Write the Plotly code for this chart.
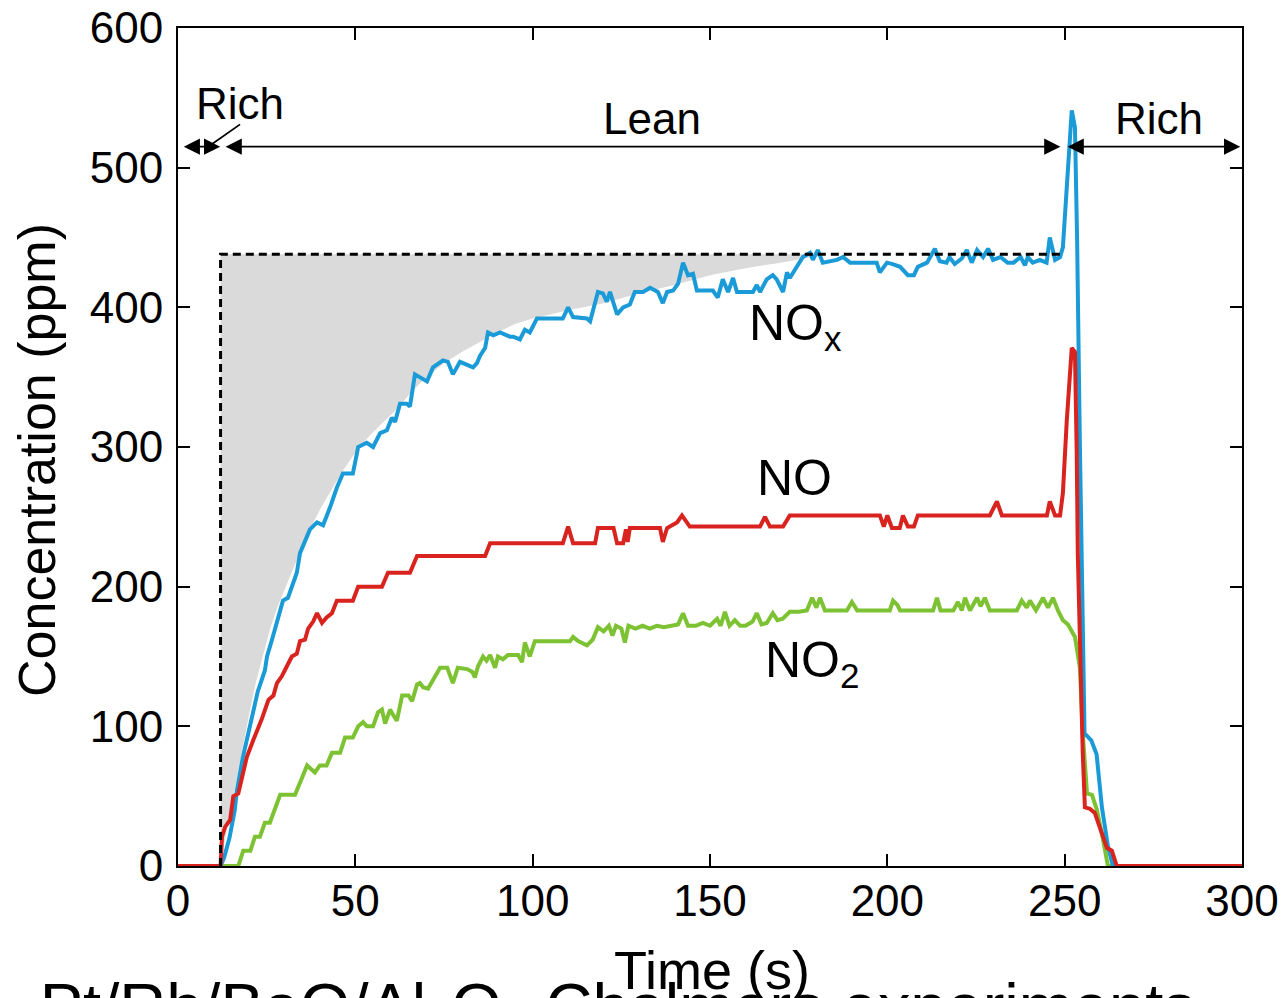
import plotly.graph_objects as go

# ---- NOx (blue) ----
nox_t = [0, 12, 13, 14.5, 16, 16.6, 18.3, 21.2, 22.5, 24.5, 25.1, 26.5, 28, 29.6, 31, 32.4, 33.5,
         34.4, 35.8, 37.2, 39.2, 40.9, 42.9, 44.8, 46.5, 49.3, 50.8, 53.2, 55, 57, 58.9, 60.3,
         61.2, 62.6, 64.5, 65.4, 66.8, 68.2, 70.2, 71.9, 74.7, 76.1, 77.5, 79.5, 81.5, 83.2,
         84.3, 85.1, 86.6, 87.4, 88.9, 90.8, 93.6, 94.5, 96.4, 97.8, 99.2, 101.2, 108.5, 110,
         111.4, 115.3, 116.2, 118.4, 119.8, 120.9, 121.8, 123.8, 125.5, 127.4, 128.8, 131.1,
         133.1, 135.3, 136.7, 137.9, 139.6, 141, 142.4, 143.8, 145.2, 146.3, 150.8, 152.2,
         153.6, 155.1, 156.5, 157.6, 162.1, 163.2, 164.1, 166, 167.7, 168.8, 170.6, 171.7,
         172.5, 174.5, 176.2, 178.2, 179, 180.4, 181.8, 185.8, 187.5, 189.5, 197, 197.9, 199.9,
         201.5, 203.6, 205.8, 207.5, 208.6, 211.2, 213.4, 214.8, 216.7, 217.5, 219, 221, 222.4,
         223.8, 225.3, 227, 228.4, 229.8, 231.9, 233.9, 235.6, 237.6, 238.8, 239.6, 241, 243,
         244.9, 245.8, 247.3, 248.7, 249.5, 250.6, 252, 252.9, 253.5, 254.3, 255.1, 255.6,
         257.5, 259, 260.5, 262.2, 263.6, 300]
nox_v = [0, 0, 6, 20, 40, 54, 78, 109, 125, 140, 150, 162, 175, 190, 192, 203, 210,
         224, 232, 241, 246, 244, 257, 271, 281, 281, 300, 303, 300, 310, 312, 321,
         318, 331, 331, 329, 352, 350, 347, 357, 362, 361, 352, 361, 359, 357,
         360, 365, 371, 382, 380, 382, 379, 379, 377, 384, 382, 392, 392, 400,
         393, 392, 390, 411, 410, 404, 411, 395, 400, 402, 411, 411,
         414, 411, 403, 411, 412, 417, 432, 423, 424, 412, 412, 407,
         420, 411, 421, 411, 411, 416, 411, 420, 423, 420, 411, 425,
         421, 429, 436, 439, 434, 441, 432, 434, 436, 432, 432, 425, 432,
         431, 429, 423, 423, 429, 432, 442, 433, 432, 436, 431, 435, 441,
         432, 441, 436, 442, 434, 436, 432, 432, 436, 430, 436, 432, 434,
         432, 450, 434, 436, 443, 484, 541, 529, 450, 300, 190, 95,
         90, 80, 42, 14, 0, 0]

# ---- NO (red) ----
no_t = [0, 12, 12.4, 13.3, 14.7, 15.6, 17, 18.4, 19.4, 21.2, 23.6, 25.5, 26.9, 27.9, 29.3,
        30.7, 32.1, 33.5, 34.4, 35.8, 36.7, 38.1, 39.2, 40.6, 41.9, 43.4, 44.8, 49.3, 50.8,
        57.5, 59.2, 65.4, 67.4, 86.6, 88, 108.5, 110, 111.4, 117.6, 118.4, 122.8, 123.8,
        125.5, 126.3, 126.8, 127.4, 135.9, 136.7, 137.9, 140.7, 142.1, 144.3, 164.1, 165.5,
        166.9, 170.6, 172.5, 197.9, 199, 200, 201.3, 203.5, 204.4, 205.8, 207.5, 208.6,
        228.9, 230.9, 232.3, 245, 245.8, 247.3, 248.7, 249.5, 250.6, 252, 252.9, 253.4,
        253.7, 255.1, 255.7, 257.1, 258.5, 261.9, 263.3, 264.7, 300]
no_v = [0, 0, 21, 28, 33, 50, 52, 66, 78, 90, 105, 119, 122, 131, 136,
        143, 150, 152, 161, 162, 170, 175, 181, 174, 178, 181, 190, 190, 200,
        200, 210, 210, 222, 222, 231, 231, 243, 231, 231, 242, 242, 231,
        231, 241, 232, 242, 242, 232, 242, 246, 251, 243, 243, 250,
        243, 243, 251, 251, 243, 251, 242, 242, 251, 243, 243, 251,
        251, 261, 251, 251, 261, 251, 251, 267, 319, 371, 368, 296,
        224, 81, 42, 41, 38, 13, 11, 0, 0]

# ---- NO2 (green) ----
no2_t = [0, 17, 18.4, 20.4, 21.7, 23.1, 24.5, 25.9, 28.8, 33, 36.4, 38.6, 40, 41.9, 43.4,
         45.7, 47.1, 49.3, 50.8, 52.2, 53.2, 55, 56.4, 57.5, 58.4, 59.8, 60.7, 61.7, 63.2,
         65, 66, 67.4, 68.2, 69.1, 70.5, 71.9, 73.9, 75.9, 77.5, 78.9, 81.5, 83, 83.7, 84.6,
         86, 87, 88, 89.4, 90.2, 91.6, 93, 95.9, 97, 97.8, 99.2, 100.6, 110.5, 111.4, 112.8,
         115.3, 116.9, 118.4, 120, 121.5, 122.5, 123.5, 125, 126, 127, 129, 131, 133, 135,
         137, 139, 141, 142.4, 143.8, 146, 148, 150, 152, 153, 154.2, 155.5, 157, 158.5, 160,
         162, 163.2, 164.5, 166, 167.7, 169, 170.5, 172.5, 175, 177.3, 178.8, 180, 181, 182.4,
         188.6, 190, 191.5, 200.7, 201.6, 202.8, 203.6, 212.9, 214, 215, 218.6, 219.9, 221,
         221.9, 223.3, 225.3, 226.3, 227.5, 228.9, 236.5, 237.9, 239.3, 240.2, 241.9, 243.9,
         245.3, 246.7, 248.1, 249.5, 250.9, 252.9, 254.3, 255.1, 256.3, 257.7, 259.1, 260.8,
         262.2, 300]
no2_v = [0, 0, 11, 11, 21, 21, 31, 31, 51, 51, 72, 67, 72, 72, 81,
         81, 92, 92, 100, 103, 100, 100, 110, 112, 102, 112, 108, 104, 122,
         122, 118, 130, 131, 128, 127, 133, 142, 142, 131, 142, 141, 139, 135, 143,
         150, 147, 151, 142, 150, 148, 151, 151, 146, 160, 150, 161, 161, 164, 161,
         158, 162, 171, 168, 172, 165, 172, 170, 160, 172, 170, 172, 170, 172,
         171, 172, 173, 181, 172, 172, 174, 172, 177, 172, 182, 172, 176, 172, 172,
         175, 181, 173, 174, 181, 176, 177, 182, 182, 183, 192, 185, 192, 183,
         183, 189, 183, 183, 190, 187, 183, 183, 192, 183, 183, 189, 183,
         192, 183, 192, 186, 192, 183, 183, 190, 185, 190, 183, 192,
         185, 192, 183, 176, 173, 164, 142, 95, 52, 51, 40, 19,
         0, 0]

# ---- Stored NOx region: smoothed outlet curve under the feed level ----
feed_level = 438
feed_start, feed_end = 12, 249.5
store_t = [12, 14, 16, 18, 20, 22, 24, 26, 28, 30, 32, 34, 36, 38, 40, 43, 46, 50, 54, 58,
           62, 66, 70, 75, 80, 85, 90, 95, 100, 110, 120, 130, 140, 150, 160, 170, 178, 183]
store_v = [0, 30, 55, 82, 108, 132, 152, 170, 185, 198, 210, 222, 234, 245, 255, 268, 281,
           296, 308, 318, 328, 340, 350, 360, 368, 375, 382, 388, 392, 398, 403, 410, 416,
           423, 428, 432, 436, 438]

FONT = "Liberation Sans, Arial, sans-serif"
BLUE, RED, GREEN = "#1b9ad8", "#d9231f", "#7cc232"

fig = go.Figure()

fig.add_trace(go.Scatter(
    x=store_t + store_t[::-1], y=store_v + [feed_level] * len(store_t),
    fill="toself", fillcolor="#dadada", line=dict(width=0), mode="lines",
    hoverinfo="skip", showlegend=False))

fig.add_trace(go.Scatter(x=no2_t, y=no2_v, mode="lines",
                         line=dict(color=GREEN, width=4), showlegend=False))
fig.add_trace(go.Scatter(x=nox_t, y=nox_v, mode="lines",
                         line=dict(color=BLUE, width=4), showlegend=False))
fig.add_trace(go.Scatter(x=no_t, y=no_v, mode="lines",
                         line=dict(color=RED, width=4), showlegend=False))

# feed step (dashed)
fig.add_trace(go.Scatter(x=[feed_start, feed_start, feed_end], y=[0, feed_level, feed_level],
                         mode="lines", line=dict(color="black", width=3, dash="8px,5px"),
                         showlegend=False))

# phase arrows
arrow_v = 515
phases = [(1.2, 11.9), (13.0, 248.8), (250.4, 299.5)]
for a, b in phases:
    fig.add_annotation(x=b, y=arrow_v, ax=a, ay=arrow_v, xref="x", yref="y",
                       axref="x", ayref="y", text="", showarrow=True,
                       arrowhead=2, arrowside="end+start", arrowsize=1.8,
                       arrowwidth=1.8, arrowcolor="black", standoff=0, startstandoff=0)

# leader from the short "Rich" label to its arrow
fig.add_trace(go.Scatter(x=[17.5, 8.5], y=[531, 515], mode="lines",
                         line=dict(color="black", width=1.8), showlegend=False))

text_font = dict(family=FONT, size=44, color="black")
label_font = dict(family=FONT, size=50, color="black")
fig.add_annotation(x=17.5, y=546, text="Rich", showarrow=False, font=text_font)
fig.add_annotation(x=133.6, y=535, text="Lean", showarrow=False, font=text_font)
fig.add_annotation(x=276.6, y=535, text="Rich", showarrow=False, font=text_font)

fig.add_annotation(x=174, y=386, text="NO<sub>x</sub>", showarrow=False, font=label_font)
fig.add_annotation(x=173.7, y=278, text="NO", showarrow=False, font=label_font)
fig.add_annotation(x=178.7, y=145, text="NO<sub>2</sub>", showarrow=False, font=label_font)

# axis titles
fig.add_annotation(x=-0.1325, y=0.4845, xref="paper", yref="paper", text="Concentration (ppm)",
                   xanchor="center", yanchor="middle",
                   textangle=-90, showarrow=False, font=dict(family=FONT, size=52, color="black"))
fig.add_annotation(x=0.502, y=-0.124, xref="paper", yref="paper", text="Time (s)",
                   xanchor="center", yanchor="middle",
                   showarrow=False, font=dict(family=FONT, size=54, color="black"))
fig.add_annotation(x=-0.153, y=-0.226, xref="paper", yref="paper", xanchor="left",
                   yanchor="bottom",
                   text="•Pt/Rh/BaO/Al<sub>2</sub>O<sub>3</sub> Chalmers experiments",
                   showarrow=False, font=dict(family=FONT, size=65, color="black"))

axis_common = dict(showline=True, linecolor="black", linewidth=2, mirror="ticks",
                   ticks="inside", ticklen=12, tickwidth=2, tickcolor="black",
                   showgrid=False, zeroline=False, automargin=False,
                   tickfont=dict(family=FONT, size=44, color="black"))

fig.update_layout(
    width=1285, height=998,
    margin=dict(l=178, r=43, t=28, b=132),
    paper_bgcolor="white", plot_bgcolor="white",
    xaxis=dict(range=[0, 300], tickvals=[0, 50, 100, 150, 200, 250, 300],
               ticklabelstandoff=-5, **axis_common),
    yaxis=dict(range=[0, 600], tickvals=[0, 100, 200, 300, 400, 500, 600],
               ticklabelstandoff=4, **axis_common),
)

fig.write_html("out.html")
